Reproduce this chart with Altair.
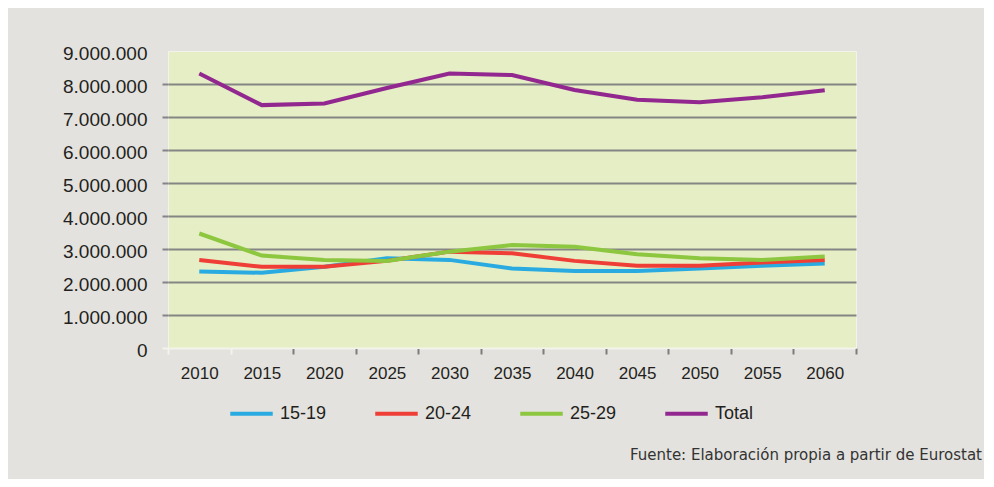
import altair as alt
import pandas as pd

years = ["2010", "2015", "2020", "2025", "2030", "2035", "2040", "2045", "2050", "2055", "2060"]
s_15_19 = [2320000, 2280000, 2460000, 2720000, 2670000, 2410000, 2330000, 2330000, 2410000, 2490000, 2560000]
s_20_24 = [2670000, 2460000, 2460000, 2640000, 2920000, 2870000, 2640000, 2490000, 2490000, 2590000, 2670000]
s_25_29 = [3470000, 2800000, 2670000, 2640000, 2920000, 3120000, 3070000, 2840000, 2720000, 2670000, 2770000]
s_total = [8320000, 7360000, 7410000, 7880000, 8320000, 8270000, 7820000, 7520000, 7450000, 7600000, 7810000]
series_names = ["15-19", "20-24", "25-29", "Total"]
series_colors = ["#29abe2", "#ef3e36", "#8dc63f", "#92278f"]
y_ticks = [0, 1000000, 2000000, 3000000, 4000000, 5000000, 6000000, 7000000, 8000000, 9000000]
footer = "Fuente: Elaboración propia a partir de Eurostat"

rows = []
for name, vals in zip(series_names, [s_15_19, s_20_24, s_25_29, s_total]):
    for yr, v in zip(years, vals):
        rows.append({"year": yr, "serie": name, "value": v})
df = pd.DataFrame(rows)

FONT = "Liberation Sans"
TXT = "#231f20"

lines = alt.Chart(df).mark_line(strokeWidth=4).encode(
    x=alt.X("year:O", sort=years,
            scale=alt.Scale(type="band", paddingInner=0, paddingOuter=0),
            axis=alt.Axis(title=None, labelAngle=0, tickBand="extent",
                          labelFont=FONT, labelFontSize=17, labelColor=TXT,
                          labelPadding=11, tickSize=6, tickWidth=2,
                          tickColor={"condition": {"test": "datum.value == '2010' || datum.extra", "value": "#f3f3ec"}, "value": "#7d7d7d"},
                          domain=True, domainColor="#f3f3ec", domainWidth=1, grid=False)),
    y=alt.Y("value:Q", scale=alt.Scale(domain=[0, 9000000], nice=False),
            axis=alt.Axis(title=None, values=y_ticks,
                          labelExpr="replace(format(datum.value, ',d'), /,/g, '.')",
                          labelFont=FONT, labelFontSize=19, labelColor=TXT,
                          labelPadding=15, labelBaseline="middle", labelOffset=2,
                          tickSize=6, tickWidth=2,
                          tickColor={"condition": {"test": "datum.value == 0", "value": "#f3f3ec"}, "value": "#858585"},
                          tickOpacity={"condition": {"test": "datum.value == 9000000", "value": 0}, "value": 1},
                          domain=False, grid=True, gridWidth=2,
                          gridColor={"condition": {"test": "datum.value == 0", "value": "#f3f3ec"}, "value": "#858585"},
                          gridOpacity={"condition": {"test": "datum.value == 9000000", "value": 0}, "value": 1})),
    color=alt.Color("serie:N", sort=series_names,
                    scale=alt.Scale(domain=series_names, range=series_colors),
                    legend=alt.Legend(title=None, orient="none", legendX=60, legendY=339,
                                      direction="horizontal", columns=4, gridAlign="all",
                                      columnPadding=40, symbolType="stroke", symbolSize=1806,
                                      symbolStrokeWidth=4, labelOffset=5,
                                      labelFont=FONT, labelFontSize=18, labelColor=TXT,
                                      padding=0)),
    order=alt.Order("serie:N"),
)

foot_df = pd.DataFrame({"t": [footer]})
foot = alt.Chart(foot_df).mark_text(align="right", baseline="middle", font="DejaVu Sans",
                                     fontSize=15, color="#333333").encode(
    x=alt.value(814), y=alt.value(404), text="t:N")

chart = alt.layer(lines, foot).properties(
    width=688, height=297,
    autosize=alt.AutoSizeParams(type="none"),
    padding={"left": 160, "top": 43, "right": 128, "bottom": 131},
    background="#e3e2de",
).configure_view(fill="#e5eec4", stroke="#f3f3ec", strokeWidth=1)

chart.save("out.html", embed_options={"renderer": "svg", "actions": False})
